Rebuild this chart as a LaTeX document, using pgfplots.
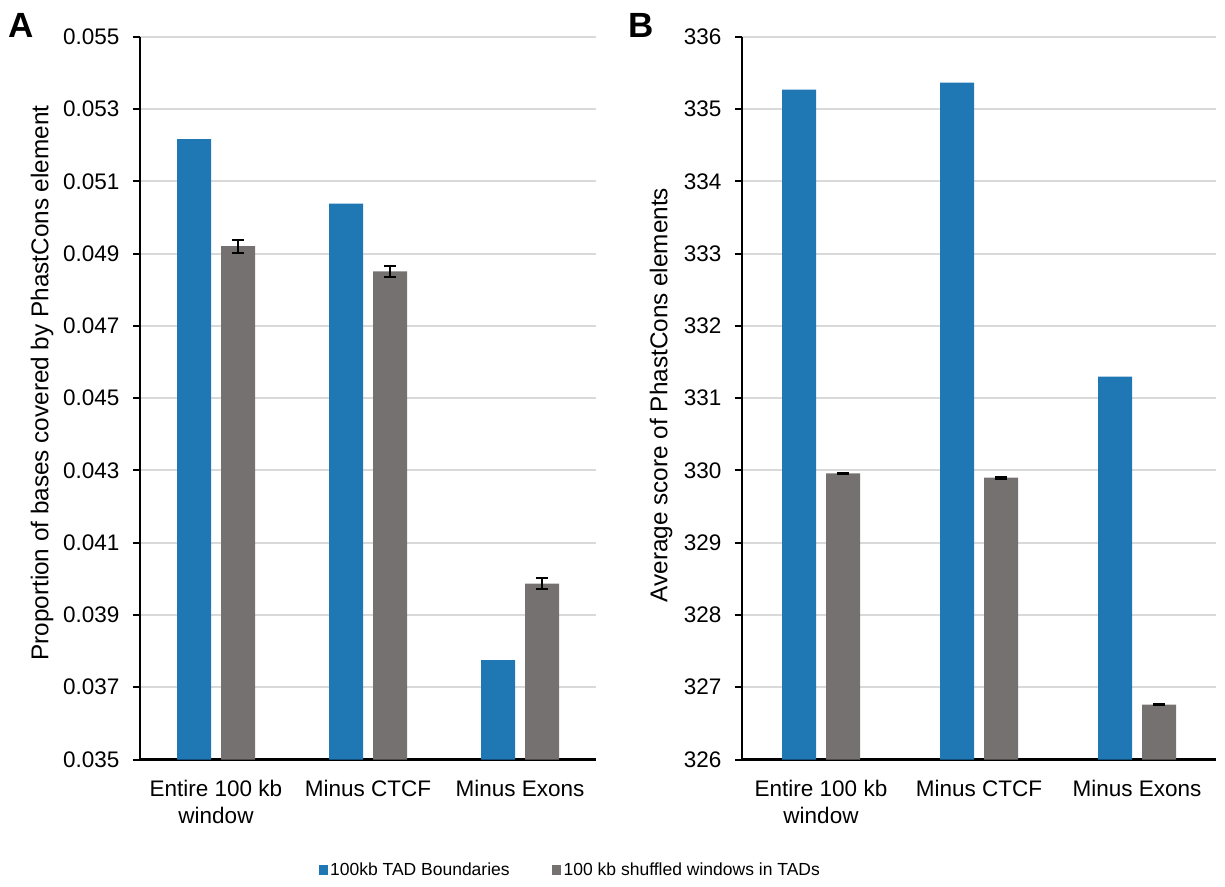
\documentclass[border=0pt]{standalone}
\usepackage{fontspec}
\setmainfont{Liberation Sans}
\usepackage{pgfplots}
\pgfplotsset{compat=1.18}
\definecolor{cblue}{HTML}{1F77B4}
\definecolor{cgray}{HTML}{767171}
\definecolor{cgrid}{HTML}{D9D9D9}
\pgfplotsset{
 panel/.style={
  scale only axis, anchor=south west,
  height=722.5pt,
  ybar=10pt, bar width=34pt,
  xmin=-0.5, xmax=2.5, xtick={0,1,2},
  xticklabels={{Entire 100 kb\\window},{Minus CTCF},{Minus Exons}},
  xticklabel style={align=center, font=\fontsize{22.5}{27}\selectfont, yshift=-10pt},
  yticklabel style={font=\fontsize{22.5}{27}\selectfont, xshift=-10pt},
  scaled y ticks=false,
  x tick style={draw=none},
  axis x line*=bottom, axis y line*=left,
  axis line style={line width=2.2pt, -},
  ymajorgrids, grid style={cgrid, line width=2pt},
  tick align=outside, major tick length=7pt,
  y tick style={black, line width=2pt},
  label style={font=\fontsize{24.3}{28}\selectfont},
  /pgf/number format/assume math mode=true,
  legend image code/.code={\fill[#1] (0pt,-4.5pt) rectangle (9pt,5pt);},
 },
 gbar/.style={fill=cgray, draw=none,
  error bars/.cd, y dir=both, y explicit,
  error bar style={black, line width=2.2pt},
  error mark options={rotate=90, mark size=6pt, line width=2.2pt, black}},
}
\begin{document}
\begin{tikzpicture}
\path[use as bounding box] (0,0) rectangle (1225pt,886pt);
\begin{axis}[panel, at={(140pt,126.5pt)}, width=456pt,
  ymin=0.035, ymax=0.055,
  ytick={0.035,0.037,0.039,0.041,0.043,0.045,0.047,0.049,0.051,0.053,0.055},
  yticklabels={0.035,0.037,0.039,0.041,0.043,0.045,0.047,0.049,0.051,0.053,0.055},
  ylabel={Proportion of bases covered by PhastCons element},
  ylabel style={at={(axis description cs:-0.2149,0.521)}, anchor=center},
  legend style={at={(axis description cs:0.944,-0.153)}, anchor=center, draw=none,
    legend columns=2, font=\fontsize{17.5}{21}\selectfont,
    nodes={inner sep=2.5pt},
    /tikz/every even column/.append style={column sep=40pt}},
  ]
\addplot[fill=cblue, draw=none] coordinates {(0,0.05217) (1,0.05039) (2,0.03775)};
\addlegendentry{100kb TAD Boundaries}
\addplot[gbar] coordinates {(0,0.04921) +- (0,0.00018) (1,0.04851) +- (0,0.00016) (2,0.03987) +- (0,0.00016)};
\addlegendentry{100 kb shuffled windows in TADs}
\end{axis}
\begin{axis}[panel, at={(742pt,126.5pt)}, width=474pt,
  ymin=326, ymax=336,
  ytick={326,327,328,329,330,331,332,333,334,335,336},
  ylabel={Average score of PhastCons elements},
  ylabel style={at={(axis description cs:-0.1709,0.5045)}, anchor=center},
  ]
\addplot[fill=cblue, draw=none] coordinates {(0,335.27) (1,335.37) (2,331.30)};
\addplot[gbar] coordinates {(0,329.96) +- (0,0.01) (1,329.90) +- (0,0.01) (2,326.76) +- (0,0.01)};
\end{axis}
\node[font=\bfseries\fontsize{35}{35}\selectfont, anchor=base west, inner sep=0pt] at (8pt,848pt) {A};
\node[font=\bfseries\fontsize{35}{35}\selectfont, anchor=base west, inner sep=0pt] at (628pt,848pt) {B};
\end{tikzpicture}
\end{document}
